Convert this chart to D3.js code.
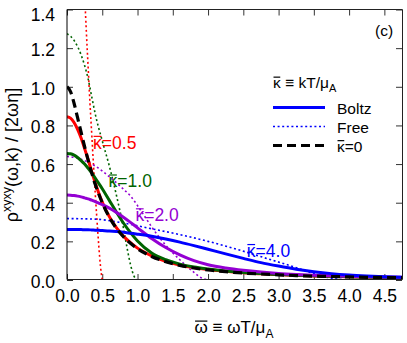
<!DOCTYPE html>
<html>
<head>
<meta charset="utf-8">
<script src="https://cdn.jsdelivr.net/npm/d3@7"></script>
<style>
  html, body { margin: 0; padding: 0; background: #fff; }
  svg { display: block; font-family: "Liberation Sans", Arial, sans-serif; }
</style>
</head>
<body>
<div id="chart"></div>
<script>
// values
var xTicks = [0, 0.5, 1, 1.5, 2, 2.5, 3, 3.5, 4, 4.5];
var yTicks = [0, 0.2, 0.4, 0.6, 0.8, 1.0, 1.2, 1.4];

// common omega grid for the Boltz curves and the kappa=0 curve
var wGrid = [0, 0.05, 0.1, 0.15, 0.2, 0.25, 0.3, 0.35, 0.4, 0.45, 0.5, 0.6, 0.7, 0.8, 0.9, 1.0,
  1.2, 1.4, 1.6, 1.8, 2.0, 2.25, 2.5, 2.75, 3.0, 3.25, 3.5, 3.75, 4.0, 4.25, 4.5, 4.75];

var kappaZero = [1.00, 0.975, 0.915, 0.84, 0.765, 0.69, 0.62, 0.555, 0.495, 0.445, 0.40, 0.325, 0.268, 0.224, 0.19, 0.162,
  0.122, 0.095, 0.076, 0.062, 0.052, 0.043, 0.036, 0.031, 0.027, 0.023, 0.02, 0.018, 0.016, 0.014, 0.013, 0.012];
var boltz05 = [0.845, 0.838, 0.815, 0.78, 0.735, 0.68, 0.622, 0.562, 0.503, 0.45, 0.403, 0.328, 0.271, 0.227, 0.193, 0.165,
  0.125, 0.097, 0.078, 0.064, 0.054, 0.045, 0.037, 0.032, 0.028, 0.024, 0.021, 0.019, 0.017, 0.015, 0.013, 0.012];
var boltz10 = [0.655, 0.653, 0.646, 0.634, 0.618, 0.6, 0.578, 0.554, 0.528, 0.5, 0.472, 0.412, 0.352, 0.295, 0.245, 0.202,
  0.14, 0.105, 0.082, 0.067, 0.057, 0.047, 0.039, 0.033, 0.029, 0.025, 0.022, 0.019, 0.017, 0.015, 0.014, 0.013];
var boltz20 = [0.44, 0.439, 0.437, 0.434, 0.43, 0.425, 0.42, 0.413, 0.406, 0.398, 0.39, 0.372, 0.35, 0.325, 0.298, 0.27,
  0.215, 0.168, 0.13, 0.1, 0.079, 0.062, 0.05, 0.041, 0.034, 0.029, 0.025, 0.022, 0.019, 0.017, 0.015, 0.014];
var boltz40 = [0.262, 0.262, 0.262, 0.261, 0.261, 0.26, 0.26, 0.259, 0.258, 0.257, 0.256, 0.254, 0.251, 0.247, 0.242, 0.237,
  0.226, 0.212, 0.196, 0.178, 0.159, 0.135, 0.112, 0.09, 0.072, 0.056, 0.043, 0.033, 0.026, 0.021, 0.017, 0.014];

// free streaming curves, each with its own omega points
var wFree05 = [0, 0.05, 0.1, 0.15, 0.2, 0.25, 0.275, 0.3, 0.325, 0.35, 0.375, 0.4, 0.425, 0.45, 0.475, 0.5];
var free05 = [2.55, 2.5, 2.38, 2.18, 1.9, 1.48, 1.28, 1.1, 0.92, 0.76, 0.6, 0.45, 0.31, 0.18, 0.07, 0];
var wFree10 = [0, 0.1, 0.2, 0.3, 0.35, 0.4, 0.5, 0.6, 0.7, 0.8, 0.85, 0.9, 0.95, 1.0];
var free10 = [1.275, 1.24, 1.165, 1.04, 0.95, 0.86, 0.72, 0.59, 0.44, 0.27, 0.17, 0.08, 0.02, 0];
var wFree20 = [0, 0.2, 0.4, 0.6, 0.8, 0.9, 1.0, 1.1, 1.2, 1.3, 1.4, 1.5, 1.6, 1.7, 1.8, 1.9, 2.0];
var free20 = [0.64, 0.625, 0.59, 0.535, 0.47, 0.435, 0.385, 0.33, 0.275, 0.225, 0.18, 0.14, 0.105, 0.07, 0.04, 0.012, 0];
var wFree40 = [0, 0.4, 0.8, 1.2, 1.6, 2.0, 2.4, 2.8, 3.2, 3.4, 3.6, 3.8, 4.0];
var free40 = [0.318, 0.315, 0.295, 0.265, 0.235, 0.2, 0.16, 0.115, 0.07, 0.045, 0.022, 0.006, 0];

var kappaLabels = ["0.5", "1.0", "2.0", "4.0"];
var kappaColors = ["#ff0000", "#006400", "#9400d3", "#0000ff"];
var labelAt = [[0.37, 0.68], [0.59, 0.48], [0.97, 0.305], [2.55, 0.12]];

var width = 407, height = 343;
var margin = {left: 67, right: 5, top: 9.5, bottom: 63};

var svg = d3.select("#chart").append("svg")
  .attr("width", width)
  .attr("height", height);

var x = d3.scaleLinear().domain([0, 4.75]).range([margin.left, width - margin.right]);
var y = d3.scaleLinear().domain([0, 1.4]).range([height - margin.bottom, margin.top]);

svg.append("clipPath").attr("id", "clip")
  .append("rect")
  .attr("x", x(0)).attr("y", y(1.4))
  .attr("width", x(4.75) - x(0)).attr("height", y(0) - y(1.4));

function pairs(ws, vs) {
  return ws.map(function(w, i) { return [w, vs[i]]; });
}

// put a bar over the first character of a text element (kappa / omega bar)
function addBar(sel, fs, color) {
  sel.each(function() {
    var r = this.getExtentOfChar(0);
    var base = +this.getAttribute("y") || 0;
    d3.select(this.parentNode).append("line")
      .attr("x1", r.x + 0.5).attr("x2", r.x + r.width - 0.5)
      .attr("y1", base - 0.7 * fs).attr("y2", base - 0.7 * fs)
      .attr("stroke", color || d3.select(this).attr("fill") || "#000")
      .attr("stroke-width", 1.2);
  });
}

var line = d3.line()
  .x(function(d) { return x(d[0]); })
  .y(function(d) { return y(d[1]); })
  .curve(d3.curveMonotoneX);

// axes, ticks pointing inward
var fmt = d3.format(".1f");
var gx = svg.append("g").attr("transform", "translate(0," + y(0) + ")")
  .call(d3.axisBottom(x).tickValues(xTicks).tickSize(-6).tickPadding(10).tickFormat(fmt));
var gy = svg.append("g").attr("transform", "translate(" + x(0) + ",0)")
  .call(d3.axisLeft(y).tickValues(yTicks).tickSize(-6).tickPadding(12).tickFormat(fmt));
var gt = svg.append("g").attr("transform", "translate(0," + y(1.4) + ")")
  .call(d3.axisTop(x).tickValues(xTicks).tickSize(-6).tickFormat(""));
var gr = svg.append("g").attr("transform", "translate(" + x(4.75) + ",0)")
  .call(d3.axisRight(y).tickValues(yTicks).tickSize(-6).tickFormat(""));

[gx, gy, gt, gr].forEach(function(g) {
  g.select(".domain").remove();
  g.selectAll(".tick line").attr("stroke", "#333");
  g.selectAll("text").attr("fill", "#000").style("font-size", "17.5px").style("font-family", null);
});
gx.selectAll("text").attr("dy", "0.7em");
// the top label sits a little lower so it stays inside the picture
gy.selectAll("text").attr("dy", function(d) { return d === 1.4 ? "0.62em" : "0.42em"; });

var plot = svg.append("g").attr("clip-path", "url(#clip)");

var freeSeries = [pairs(wFree05, free05), pairs(wFree10, free10), pairs(wFree20, free20), pairs(wFree40, free40)];
var boltzSeries = [pairs(wGrid, boltz05), pairs(wGrid, boltz10), pairs(wGrid, boltz20), pairs(wGrid, boltz40)];

plot.selectAll("path.free")
  .data(freeSeries)
  .enter().append("path")
  .attr("class", "free")
  .attr("d", line)
  .attr("fill", "none")
  .attr("stroke", function(d, i) { return kappaColors[i]; })
  .attr("stroke-width", 1.6)
  .attr("stroke-dasharray", "2,2.6");

plot.selectAll("path.boltz")
  .data(boltzSeries)
  .enter().append("path")
  .attr("class", "boltz")
  .attr("d", line)
  .attr("fill", "none")
  .attr("stroke", function(d, i) { return kappaColors[i]; })
  .attr("stroke-width", 3);

plot.append("path")
  .datum(pairs(wGrid, kappaZero))
  .attr("d", line)
  .attr("fill", "none")
  .attr("stroke", "#000")
  .attr("stroke-width", 3.2)
  .attr("stroke-dasharray", "9,5");

// frame
svg.append("path")
  .attr("d", "M" + x(0) + "," + (y(1.4)) + "V" + (y(0) - 0.5))
  .attr("stroke", "#000").attr("stroke-width", 1);
svg.append("path")
  .attr("d", "M" + x(0) + "," + (y(0) - 0.5) + "H" + (Math.round(x(4.75)) + 0.5) + "V" + y(1.4) + "H" + x(0))
  .attr("fill", "none").attr("stroke", "#222").attr("stroke-width", 1);

// kappa labels on the curves
var lab = svg.selectAll("text.klab")
  .data(kappaLabels)
  .enter().append("text")
  .attr("class", "klab")
  .attr("x", function(d, i) { return x(labelAt[i][0]); })
  .attr("y", function(d, i) { return y(labelAt[i][1]); })
  .attr("fill", function(d, i) { return kappaColors[i]; })
  .style("font-size", "17.5px")
  .text(function(d) { return "κ=" + d; });
addBar(lab, 17.5);

// legend
var legItems = ["Boltz", "Free", "κ=0"];
var legStyles = [{c: "#0000ff", w: 3, dash: null}, {c: "#0000ff", w: 1.6, dash: "2,2.6"}, {c: "#000", w: 3.2, dash: "9,5"}];
var legTitle = svg.append("text").attr("x", 273).attr("y", 88).attr("fill", "#000").style("font-size", "15.5px");
legTitle.append("tspan").text("κ ≡ kT/μ");
legTitle.append("tspan").attr("dy", 4).style("font-size", "11px").text("A");
addBar(legTitle, 15.5);

var leg = svg.selectAll("g.leg")
  .data(legItems)
  .enter().append("g")
  .attr("class", "leg")
  .attr("transform", function(d, i) { return "translate(273," + (107.5 + i * 19) + ")"; });
leg.append("line")
  .attr("x1", 0).attr("x2", 52)
  .attr("stroke", function(d, i) { return legStyles[i].c; })
  .attr("stroke-width", function(d, i) { return legStyles[i].w; })
  .attr("stroke-dasharray", function(d, i) { return legStyles[i].dash; });
leg.append("text").attr("x", 64).attr("y", 6).attr("fill", "#000")
  .style("font-size", "15.5px")
  .text(function(d) { return d; });
addBar(leg.filter(function(d, i) { return i === 2; }).select("text"), 15.5);

svg.append("text").attr("x", 375).attr("y", 36).style("font-size", "15.5px").text("(c)");

// axis titles
var xt = svg.append("text").attr("x", 234).attr("y", 333).attr("fill", "#000")
  .attr("text-anchor", "middle").style("font-size", "17px");
xt.append("tspan").text("ω ≡ ωT/μ");
xt.append("tspan").attr("dy", 5).style("font-size", "12px").text("A");
addBar(xt, 17);

var yt = svg.append("text")
  .attr("transform", "translate(18,155) rotate(-90)")
  .attr("text-anchor", "middle")
  .style("font-size", "18px");
yt.append("tspan").text("ρ");
yt.append("tspan").attr("dy", -7).style("font-size", "12.5px").text("xyxy");
yt.append("tspan").attr("dy", 7).text("(ω,k) / [2ωη]");
</script>
</body>
</html>
